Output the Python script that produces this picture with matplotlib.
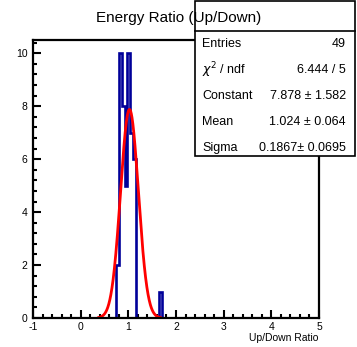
import numpy as np
import matplotlib
matplotlib.use('Agg')
import matplotlib.pyplot as plt
from matplotlib.patches import Rectangle
from matplotlib.lines import Line2D
from matplotlib.ticker import MultipleLocator

plt.rcParams['font.family'] = ['Liberation Sans', 'DejaVu Sans']
plt.rcParams['mathtext.fontset'] = 'dejavusans'
plt.rcParams['axes.unicode_minus'] = False

# Histogram: 100 bins between -1 and 5, only the filled bins listed
n_bins = 100
x_lo, x_hi = -1.0, 5.0
filled_bins = [29, 30, 31, 32, 33, 34, 35, 44]
filled_counts = [2, 10, 8, 5, 10, 7, 6, 1]

# Gaussian fit results
fit_const = 7.878
fit_mean = 1.024
fit_sigma = 0.1867

stat_labels = ['Entries', r'$\chi^{2}$ / ndf', 'Constant', 'Mean', 'Sigma']
stat_values = ['49', '6.444 / 5', '7.878 \u00b1 1.582', '1.024 \u00b1 0.064',
               '0.1867\u00b1 0.0695']

W, H = 357, 347
fig = plt.figure(figsize=(W / 100, H / 100), dpi=100)
ax = fig.add_axes([33 / W, 29 / H, 286 / W, 278 / H])

edges = np.linspace(x_lo, x_hi, n_bins + 1)
counts = np.zeros(n_bins)
counts[filled_bins] = filled_counts
ax.stairs(counts, edges, color='#000099', lw=1.9, zorder=2)

xs = np.linspace(x_lo, x_hi, 2000)
ys = fit_const * np.exp(-0.5 * ((xs - fit_mean) / fit_sigma) ** 2)
ys[ys < 0.02] = np.nan
ax.plot(xs, ys, color='red', lw=2.0, zorder=3)

ax.set_xlim(x_lo, x_hi)
ax.set_ylim(0, max(filled_counts) * 1.05)

ax.xaxis.set_major_locator(MultipleLocator(1))
ax.xaxis.set_minor_locator(MultipleLocator(0.2))
ax.yaxis.set_major_locator(MultipleLocator(2))
ax.yaxis.set_minor_locator(MultipleLocator(0.4))
ax.tick_params(which='both', direction='in', width=1.5, labelsize=7.5)
ax.tick_params(which='major', length=6, pad=3)
ax.tick_params(which='minor', length=3)
ax.tick_params(axis='y', pad=4)
for sp in ax.spines.values():
    sp.set_linewidth(1.6)
    sp.set_zorder(4)

fig.text(318 / W, 1 - 338 / H, 'Up/Down Ratio', ha='right', va='center', fontsize=7.5)

# Stats box
def fx(px):
    return px / W

def fy(py):
    return 1 - py / H

box = Rectangle((fx(195), fy(156)), fx(355) - fx(195), fy(1) - fy(156),
                transform=fig.transFigure, facecolor='white', edgecolor='black',
                lw=1.2, zorder=10)
fig.add_artist(box)
fig.add_artist(Line2D([fx(195), fx(355)], [fy(31), fy(31)],
                      transform=fig.transFigure, color='black', lw=1.2, zorder=11))

row_y = [44, 70, 96, 122, 148]
for lab, val, yy in zip(stat_labels, stat_values, row_y):
    fig.text(fx(202), fy(yy), lab, ha='left', va='center', fontsize=9, zorder=12)
    fig.text(fx(346), fy(yy), val, ha='right', va='center', fontsize=9, zorder=12)

fig.text(fx(179), fy(18), 'Energy Ratio (Up/Down)', ha='center', va='center',
         fontsize=11, zorder=13)

fig.savefig('out.png', dpi=100)
